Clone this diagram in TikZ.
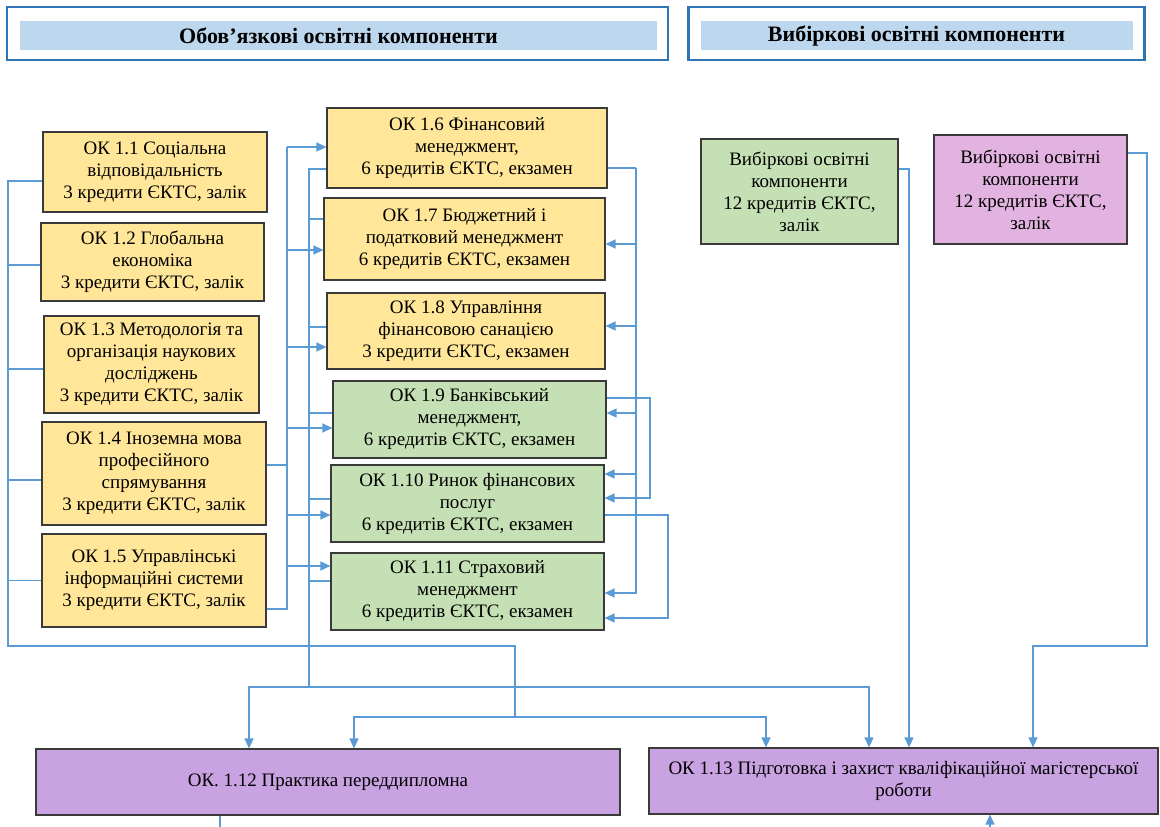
\documentclass[tikz,border=0pt]{standalone}
\usepackage{fontspec}
\setmainfont{Liberation Serif}
\usepackage{tikz}
\usetikzlibrary{arrows.meta}

\definecolor{okyellow}{HTML}{FFE699}
\definecolor{okgreen}{HTML}{C5E0B4}
\definecolor{okpurple}{HTML}{C9A2E2}
\definecolor{okpink}{HTML}{E2B2E0}
\definecolor{hdrblue}{HTML}{BDD7EE}
\definecolor{hdrframe}{HTML}{2E75B6}
\definecolor{linkblue}{HTML}{5B9BD5}
\definecolor{boxline}{HTML}{3A3A3A}

\tikzset{
  okbox/.style={draw=boxline, line width=1.2pt, align=center, inner sep=0pt,
    font=\fontsize{19}{22}\selectfont},
  yel/.style={okbox, fill=okyellow},
  grn/.style={okbox, fill=okgreen},
  prp/.style={okbox, fill=okpurple},
  pnk/.style={okbox, fill=okpink},
  hdr/.style={draw=hdrframe, line width=2.6pt, inner sep=0pt},
  hdrbar/.style={fill=hdrblue, inner sep=0pt, font=\fontsize{22}{26}\selectfont\bfseries},
  conn/.style={draw=linkblue, line width=1.3pt},
  arr/.style={conn, -{Triangle[length=10pt,width=9pt]}}
}

\begin{document}
\begin{tikzpicture}[x=1pt,y=-1pt]
\useasboundingbox (0,0) rectangle (1160,827);

% headers
\node[hdr, minimum width=661pt, minimum height=53pt] (hl) at (337.5,33.5) {};
\node[hdrbar, minimum width=637pt, minimum height=29pt] (hlt) at (338.5,35.5) {Обов’язкові освітні компоненти};
\node[hdr, minimum width=456pt, minimum height=53pt] (hr) at (916.5,33.5) {};
\node[hdrbar, minimum width=432pt, minimum height=29pt] (hrt) at (916.5,35.5) {Вибіркові освітні компоненти};

% left column
\node[yel, minimum width=224pt, minimum height=80pt] (ok11) at (155,172) {ОК 1.1 Соціальна\\відповідальність\\3 кредити ЄКТС, залік};
\node[yel, minimum width=223pt, minimum height=78pt] (ok12) at (152.5,262) {ОК 1.2 Глобальна\\економіка\\3 кредити ЄКТС, залік};
\node[yel, minimum width=215pt, minimum height=97pt] (ok13) at (151.5,364.5) {ОК 1.3 Методологія та\\організація наукових\\досліджень\\3 кредити ЄКТС, залік};
\node[yel, minimum width=224pt, minimum height=103pt] (ok14) at (154,473.5) {ОК 1.4 Іноземна мова\\професійного\\спрямування\\3 кредити ЄКТС, залік};
\node[yel, minimum width=224pt, minimum height=93pt] (ok15) at (154,580.5) {ОК 1.5 Управлінські\\інформаційні системи\\3 кредити ЄКТС, залік};

% middle column
\node[yel, minimum width=280pt, minimum height=80pt] (ok16) at (467,148) {ОК 1.6 Фінансовий\\менеджмент,\\6 кредитів ЄКТС, екзамен};
\node[yel, minimum width=281pt, minimum height=82pt] (ok17) at (464.5,239) {ОК 1.7 Бюджетний і\\податковий менеджмент\\6 кредитів ЄКТС, екзамен};
\node[yel, minimum width=278pt, minimum height=76pt] (ok18) at (466,331) {ОК 1.8 Управління\\фінансовою санацією\\3 кредити ЄКТС, екзамен};
\node[grn, minimum width=273pt, minimum height=77pt] (ok19) at (469.5,419.5) {ОК 1.9 Банківський\\менеджмент,\\6 кредитів ЄКТС, екзамен};
\node[grn, minimum width=273pt, minimum height=77pt] (ok110) at (467.5,503.5) {ОК 1.10 Ринок фінансових\\послуг\\6 кредитів ЄКТС, екзамен};
\node[grn, minimum width=273pt, minimum height=77pt] (ok111) at (467.5,591.5) {ОК 1.11 Страховий\\менеджмент\\6 кредитів ЄКТС, екзамен};

% elective blocks
\node[grn, minimum width=197pt, minimum height=105pt] (vb1) at (799.5,191.5) {Вибіркові освітні\\компоненти\\12 кредитів ЄКТС,\\залік};
\node[pnk, minimum width=193pt, minimum height=109pt] (vb2) at (1030.5,189.5) {Вибіркові освітні\\компоненти\\12 кредитів ЄКТС,\\залік};

% final blocks
\node[prp, minimum width=584pt, minimum height=66pt] (ok112) at (328,782) {ОК. 1.12 Практика переддипломна};
\node[prp, minimum width=509pt, minimum height=66pt] (ok113) at (903.5,781) {ОК 1.13 Підготовка і захист кваліфікаційної магістерської\\роботи};

% bus points
\coordinate (lcorner) at (8,646);
\coordinate (ldrop) at (515,717);
\coordinate (b2top) at (287,147);
\coordinate (b3) at (309,687);
\coordinate (b4) at (636,168);
\coordinate (loopA) at (650,398);
\coordinate (loopB) at (668,515);
\coordinate (pturn) at (1147,646);
\coordinate (cutA) at (220,827);
\coordinate (cutB) at (990,827);

% left bus
\draw[conn] ([yshift=-9pt]ok11.west) -| (lcorner) -| (ldrop);
\foreach \n/\s in {ok12/-3,ok13/-4.5,ok14/-6.5,ok15/0}
  \draw[conn] ([yshift=\s pt]\n.west) -| (lcorner);
\draw[arr] (ldrop) -| ([xshift=26pt]ok112.north);
\draw[arr] (ldrop) -| ([xshift=-137.5pt]ok113.north);

% second bus
\draw[conn] ([yshift=8.5pt]ok14.east) -| (b2top);
\draw[conn] ([yshift=-28.5pt]ok15.east) -| (b2top);
\foreach \n/\s in {ok16/1,ok17/-11,ok18/-16,ok19/-8.5,ok110/-11.5,ok111/25.5}
  \draw[arr] (b2top) |- ([yshift=\s pt]\n.west);

% third bus
\foreach \n/\s in {ok16/-21,ok17/20,ok18/4,ok19/6.5,ok110/4.5,ok111/10.5}
  \draw[conn] ([yshift=\s pt]\n.west) -| (b3);
\draw[arr] (b3) -| ([xshift=-79pt]ok112.north);
\draw[arr] (b3) -| ([xshift=-34.5pt]ok113.north);

% right bus
\draw[conn] ([yshift=-20pt]ok16.east) -- (b4);
\foreach \n/\s in {ok17/-5,ok18/5,ok19/6.5,ok110/29.5,ok111/-1.5}
  \draw[arr] (b4) |- ([yshift=\s pt]\n.east);
\draw[arr] ([yshift=21.5pt]ok19.east) -- (loopA) |- ([yshift=5.5pt]ok110.east);
\draw[arr] ([yshift=-11.5pt]ok110.east) -- (loopB) |- ([yshift=-26.5pt]ok111.east);

% electives
\draw[arr] ([yshift=22.5pt]vb1.east) -| ([xshift=5.5pt]ok113.north);
\draw[arr] ([yshift=36.5pt]vb2.east) -| (pturn) -| ([xshift=129.5pt]ok113.north);

% bottom stubs
\draw[conn] ([xshift=-108pt]ok112.south) -- (cutA);
\draw[arr] (cutB) -- ([xshift=86.5pt]ok113.south);

\end{tikzpicture}
\end{document}
